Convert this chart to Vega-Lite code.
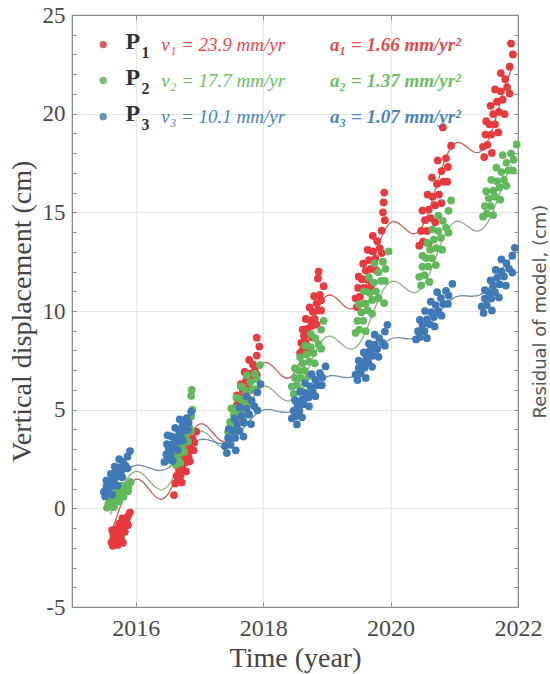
{
  "$schema": "https://vega.github.io/schema/vega-lite/v6.json",
  "width": 446,
  "height": 592,
  "autosize": {"type": "none"},
  "padding": {"left": 72, "top": 15, "right": 32, "bottom": 67},
  "background": "white",
  "config": {
    "view": {"stroke": "#8a8a8a", "strokeWidth": 1.2},
    "font": "Liberation Serif",
    "axis": {
      "labelFont": "Liberation Serif",
      "titleFont": "Liberation Serif",
      "titleFontWeight": "normal",
      "labelColor": "#4a4a4a",
      "titleColor": "#444444",
      "tickColor": "#8a8a8a",
      "domainColor": "#8a8a8a",
      "gridColor": "#e6e6e6",
      "labelOverlap": false,
      "labelFlush": false
    }
  },
  "datasets": {
    "pts": [
      {"s":"P1","t":2015.62,"y":-1.73},{"s":"P1","t":2015.64,"y":-1.9},{"s":"P1","t":2015.65,"y":-1.53},{"s":"P1","t":2015.67,"y":-1.7},{"s":"P1","t":2015.68,"y":-1.36},{"s":"P1","t":2015.7,"y":-1.53},{"s":"P1","t":2015.72,"y":-1.19},{"s":"P1","t":2015.74,"y":-1.36},{"s":"P1","t":2015.76,"y":-0.98},{"s":"P1","t":2015.78,"y":-1.15},{"s":"P1","t":2015.79,"y":-0.81},{"s":"P1","t":2015.82,"y":-0.95},{"s":"P1","t":2015.84,"y":-0.61},{"s":"P1","t":2015.86,"y":-0.74},{"s":"P1","t":2015.88,"y":-0.4},{"s":"P1","t":2015.91,"y":-0.2},{"s":"P1","t":2015.72,"y":-1.85},{"s":"P1","t":2015.8,"y":-1.75},{"s":"P1","t":2015.63,"y":-1.1},
      {"s":"P1","t":2015.65,"y":-1.31},{"s":"P1","t":2015.7,"y":-1.05},{"s":"P1","t":2015.74,"y":-0.78},{"s":"P1","t":2015.79,"y":-0.51},{"s":"P1","t":2015.71,"y":-1.83},{"s":"P1","t":2015.77,"y":-1.49},{"s":"P1","t":2015.83,"y":-1.19},{"s":"P1","t":2015.88,"y":-0.85},
      {"s":"P1","t":2016.6,"y":0.67},{"s":"P1","t":2016.62,"y":1.26},{"s":"P1","t":2016.64,"y":1.65},{"s":"P1","t":2016.66,"y":1.37},{"s":"P1","t":2016.68,"y":1.93},{"s":"P1","t":2016.7,"y":1.65},{"s":"P1","t":2016.72,"y":2.21},{"s":"P1","t":2016.74,"y":1.98},{"s":"P1","t":2016.76,"y":2.54},{"s":"P1","t":2016.78,"y":2.32},{"s":"P1","t":2016.8,"y":2.88},{"s":"P1","t":2016.83,"y":2.6},{"s":"P1","t":2016.85,"y":3.22},{"s":"P1","t":2016.87,"y":2.94},{"s":"P1","t":2016.89,"y":3.55},{"s":"P1","t":2016.92,"y":3.33},{"s":"P1","t":2016.95,"y":3.89},
      {"s":"P1","t":2016.65,"y":2.18},{"s":"P1","t":2016.7,"y":2.6},{"s":"P1","t":2016.75,"y":3.05},{"s":"P1","t":2016.81,"y":3.5},{"s":"P1","t":2016.72,"y":1.31},{"s":"P1","t":2016.79,"y":1.87},{"s":"P1","t":2016.85,"y":2.38},{"s":"P1","t":2016.91,"y":2.94},
      {"s":"P1","t":2017.55,"y":4.78},{"s":"P1","t":2017.57,"y":4.4},{"s":"P1","t":2017.59,"y":5.24},{"s":"P1","t":2017.61,"y":4.86},{"s":"P1","t":2017.63,"y":5.62},{"s":"P1","t":2017.66,"y":5.24},{"s":"P1","t":2017.68,"y":6.0},{"s":"P1","t":2017.71,"y":5.62},{"s":"P1","t":2017.73,"y":6.45},{"s":"P1","t":2017.76,"y":6.07},{"s":"P1","t":2017.78,"y":6.83},{"s":"P1","t":2017.81,"y":6.53},{"s":"P1","t":2017.84,"y":7.29},{"s":"P1","t":2017.87,"y":6.98},{"s":"P1","t":2017.9,"y":7.74},{"s":"P1","t":2017.94,"y":8.2},{"s":"P1","t":2017.9,"y":8.65},
      {"s":"P1","t":2017.59,"y":5.73},{"s":"P1","t":2017.65,"y":6.3},{"s":"P1","t":2017.71,"y":6.91},{"s":"P1","t":2017.78,"y":7.52},{"s":"P1","t":2017.67,"y":4.55},{"s":"P1","t":2017.75,"y":5.31},{"s":"P1","t":2017.83,"y":6.0},{"s":"P1","t":2017.9,"y":6.76},
      {"s":"P1","t":2018.58,"y":7.87},{"s":"P1","t":2018.6,"y":8.38},{"s":"P1","t":2018.62,"y":8.02},{"s":"P1","t":2018.64,"y":8.74},{"s":"P1","t":2018.67,"y":8.38},{"s":"P1","t":2018.69,"y":9.1},{"s":"P1","t":2018.71,"y":8.81},{"s":"P1","t":2018.74,"y":9.53},{"s":"P1","t":2018.76,"y":9.24},{"s":"P1","t":2018.78,"y":9.96},{"s":"P1","t":2018.81,"y":9.6},{"s":"P1","t":2018.84,"y":10.39},{"s":"P1","t":2018.86,"y":10.03},{"s":"P1","t":2018.89,"y":10.82},{"s":"P1","t":2018.91,"y":10.54},{"s":"P1","t":2018.95,"y":11.26},{"s":"P1","t":2018.86,"y":11.65},{"s":"P1","t":2018.87,"y":12.0},
      {"s":"P1","t":2018.62,"y":9.06},{"s":"P1","t":2018.67,"y":9.6},{"s":"P1","t":2018.73,"y":10.18},{"s":"P1","t":2018.8,"y":10.75},{"s":"P1","t":2018.69,"y":7.94},{"s":"P1","t":2018.77,"y":8.66},{"s":"P1","t":2018.84,"y":9.31},{"s":"P1","t":2018.91,"y":10.03},
      {"s":"P1","t":2019.45,"y":10.64},{"s":"P1","t":2019.47,"y":10.2},{"s":"P1","t":2019.49,"y":11.17},{"s":"P1","t":2019.52,"y":10.73},{"s":"P1","t":2019.55,"y":11.61},{"s":"P1","t":2019.58,"y":11.17},{"s":"P1","t":2019.61,"y":12.05},{"s":"P1","t":2019.63,"y":11.61},{"s":"P1","t":2019.66,"y":12.58},{"s":"P1","t":2019.69,"y":12.14},{"s":"P1","t":2019.72,"y":13.02},{"s":"P1","t":2019.76,"y":12.66},{"s":"P1","t":2019.79,"y":13.54},{"s":"P1","t":2019.83,"y":13.19},{"s":"P1","t":2019.86,"y":14.07},{"s":"P1","t":2019.91,"y":14.6},{"s":"P1","t":2019.88,"y":15.0},{"s":"P1","t":2019.89,"y":15.5},{"s":"P1","t":2019.9,"y":16.0},
      {"s":"P1","t":2019.5,"y":11.74},{"s":"P1","t":2019.57,"y":12.4},{"s":"P1","t":2019.64,"y":13.1},{"s":"P1","t":2019.72,"y":13.81},{"s":"P1","t":2019.59,"y":10.38},{"s":"P1","t":2019.69,"y":11.26},{"s":"P1","t":2019.78,"y":12.05},{"s":"P1","t":2019.86,"y":12.93},
      {"s":"P1","t":2020.45,"y":13.31},{"s":"P1","t":2020.48,"y":14.06},{"s":"P1","t":2020.51,"y":13.52},{"s":"P1","t":2020.54,"y":14.6},{"s":"P1","t":2020.57,"y":14.06},{"s":"P1","t":2020.6,"y":15.14},{"s":"P1","t":2020.63,"y":14.71},{"s":"P1","t":2020.66,"y":15.79},{"s":"P1","t":2020.7,"y":15.36},{"s":"P1","t":2020.73,"y":16.44},{"s":"P1","t":2020.76,"y":15.9},{"s":"P1","t":2020.8,"y":17.09},{"s":"P1","t":2020.83,"y":16.55},{"s":"P1","t":2020.87,"y":17.74},{"s":"P1","t":2020.9,"y":17.3},{"s":"P1","t":2020.95,"y":18.38},{"s":"P1","t":2020.82,"y":19.3},
      {"s":"P1","t":2020.5,"y":15.09},{"s":"P1","t":2020.58,"y":15.9},{"s":"P1","t":2020.65,"y":16.76},{"s":"P1","t":2020.74,"y":17.63},{"s":"P1","t":2020.6,"y":13.42},{"s":"P1","t":2020.7,"y":14.5},{"s":"P1","t":2020.8,"y":15.47},{"s":"P1","t":2020.89,"y":16.55},
      {"s":"P1","t":2021.45,"y":18.32},{"s":"P1","t":2021.47,"y":17.8},{"s":"P1","t":2021.49,"y":18.94},{"s":"P1","t":2021.52,"y":18.42},{"s":"P1","t":2021.55,"y":19.46},{"s":"P1","t":2021.58,"y":18.94},{"s":"P1","t":2021.61,"y":19.98},{"s":"P1","t":2021.64,"y":19.46},{"s":"P1","t":2021.67,"y":20.61},{"s":"P1","t":2021.7,"y":20.09},{"s":"P1","t":2021.73,"y":21.13},{"s":"P1","t":2021.76,"y":20.71},{"s":"P1","t":2021.8,"y":21.75},{"s":"P1","t":2021.83,"y":21.34},{"s":"P1","t":2021.87,"y":22.38},{"s":"P1","t":2021.92,"y":23.0},{"s":"P1","t":2021.89,"y":23.55},
      {"s":"P1","t":2021.5,"y":19.62},{"s":"P1","t":2021.57,"y":20.4},{"s":"P1","t":2021.64,"y":21.23},{"s":"P1","t":2021.73,"y":22.06},{"s":"P1","t":2021.59,"y":18.01},{"s":"P1","t":2021.69,"y":19.05},{"s":"P1","t":2021.79,"y":19.98},{"s":"P1","t":2021.87,"y":21.02},

      {"s":"P2","t":2015.55,"y":0.03},{"s":"P2","t":2015.57,"y":0.22},{"s":"P2","t":2015.59,"y":0.08},{"s":"P2","t":2015.61,"y":0.36},{"s":"P2","t":2015.64,"y":0.22},{"s":"P2","t":2015.66,"y":0.5},{"s":"P2","t":2015.68,"y":0.39},{"s":"P2","t":2015.71,"y":0.67},{"s":"P2","t":2015.73,"y":0.56},{"s":"P2","t":2015.75,"y":0.84},{"s":"P2","t":2015.78,"y":0.7},{"s":"P2","t":2015.81,"y":1.01},{"s":"P2","t":2015.83,"y":0.87},{"s":"P2","t":2015.86,"y":1.18},{"s":"P2","t":2015.88,"y":1.06},{"s":"P2","t":2015.92,"y":1.34},
      {"s":"P2","t":2015.59,"y":0.49},{"s":"P2","t":2015.64,"y":0.7},{"s":"P2","t":2015.7,"y":0.92},{"s":"P2","t":2015.77,"y":1.15},{"s":"P2","t":2015.66,"y":0.06},{"s":"P2","t":2015.74,"y":0.34},{"s":"P2","t":2015.81,"y":0.59},{"s":"P2","t":2015.88,"y":0.87},
      {"s":"P2","t":2016.62,"y":2.48},{"s":"P2","t":2016.63,"y":2.2},{"s":"P2","t":2016.65,"y":2.82},{"s":"P2","t":2016.66,"y":2.54},{"s":"P2","t":2016.68,"y":3.1},{"s":"P2","t":2016.7,"y":2.82},{"s":"P2","t":2016.71,"y":3.38},{"s":"P2","t":2016.73,"y":3.1},{"s":"P2","t":2016.75,"y":3.71},{"s":"P2","t":2016.77,"y":3.43},{"s":"P2","t":2016.78,"y":3.99},{"s":"P2","t":2016.8,"y":3.77},{"s":"P2","t":2016.82,"y":4.33},{"s":"P2","t":2016.84,"y":4.1},{"s":"P2","t":2016.87,"y":4.66},{"s":"P2","t":2016.89,"y":5.0},{"s":"P2","t":2016.87,"y":5.7},{"s":"P2","t":2016.88,"y":6.0},
      {"s":"P2","t":2016.65,"y":3.18},{"s":"P2","t":2016.69,"y":3.6},{"s":"P2","t":2016.73,"y":4.05},{"s":"P2","t":2016.78,"y":4.5},{"s":"P2","t":2016.7,"y":2.31},{"s":"P2","t":2016.76,"y":2.87},{"s":"P2","t":2016.82,"y":3.38},{"s":"P2","t":2016.87,"y":3.94},
      {"s":"P2","t":2017.45,"y":3.87},{"s":"P2","t":2017.48,"y":4.38},{"s":"P2","t":2017.51,"y":4.02},{"s":"P2","t":2017.54,"y":4.74},{"s":"P2","t":2017.57,"y":4.38},{"s":"P2","t":2017.6,"y":5.1},{"s":"P2","t":2017.63,"y":4.81},{"s":"P2","t":2017.66,"y":5.53},{"s":"P2","t":2017.7,"y":5.24},{"s":"P2","t":2017.73,"y":5.96},{"s":"P2","t":2017.76,"y":5.6},{"s":"P2","t":2017.8,"y":6.39},{"s":"P2","t":2017.83,"y":6.03},{"s":"P2","t":2017.87,"y":6.82},{"s":"P2","t":2017.9,"y":6.54},{"s":"P2","t":2017.95,"y":7.26},
      {"s":"P2","t":2017.5,"y":5.06},{"s":"P2","t":2017.58,"y":5.6},{"s":"P2","t":2017.65,"y":6.18},{"s":"P2","t":2017.74,"y":6.75},{"s":"P2","t":2017.6,"y":3.94},{"s":"P2","t":2017.7,"y":4.66},{"s":"P2","t":2017.8,"y":5.31},{"s":"P2","t":2017.89,"y":6.03},
      {"s":"P2","t":2018.45,"y":6.17},{"s":"P2","t":2018.48,"y":5.8},{"s":"P2","t":2018.5,"y":6.61},{"s":"P2","t":2018.53,"y":6.24},{"s":"P2","t":2018.56,"y":6.98},{"s":"P2","t":2018.59,"y":6.61},{"s":"P2","t":2018.62,"y":7.35},{"s":"P2","t":2018.65,"y":6.98},{"s":"P2","t":2018.68,"y":7.8},{"s":"P2","t":2018.72,"y":7.43},{"s":"P2","t":2018.75,"y":8.17},{"s":"P2","t":2018.79,"y":7.87},{"s":"P2","t":2018.82,"y":8.61},{"s":"P2","t":2018.87,"y":8.32},{"s":"P2","t":2018.91,"y":9.06},{"s":"P2","t":2018.95,"y":9.5},
      {"s":"P2","t":2018.5,"y":7.1},{"s":"P2","t":2018.58,"y":7.65},{"s":"P2","t":2018.66,"y":8.24},{"s":"P2","t":2018.75,"y":8.83},{"s":"P2","t":2018.61,"y":5.95},{"s":"P2","t":2018.71,"y":6.69},{"s":"P2","t":2018.81,"y":7.35},{"s":"P2","t":2018.91,"y":8.09},
      {"s":"P2","t":2019.45,"y":8.89},{"s":"P2","t":2019.48,"y":9.5},{"s":"P2","t":2019.51,"y":9.06},{"s":"P2","t":2019.54,"y":9.94},{"s":"P2","t":2019.57,"y":9.5},{"s":"P2","t":2019.61,"y":10.38},{"s":"P2","t":2019.64,"y":10.03},{"s":"P2","t":2019.67,"y":10.91},{"s":"P2","t":2019.71,"y":10.56},{"s":"P2","t":2019.74,"y":11.44},{"s":"P2","t":2019.77,"y":11.0},{"s":"P2","t":2019.81,"y":11.97},{"s":"P2","t":2019.85,"y":11.53},{"s":"P2","t":2019.88,"y":12.5},{"s":"P2","t":2019.92,"y":12.14},{"s":"P2","t":2019.97,"y":13.02},{"s":"P2","t":2019.9,"y":10.4},
      {"s":"P2","t":2019.5,"y":10.34},{"s":"P2","t":2019.58,"y":11.0},{"s":"P2","t":2019.66,"y":11.7},{"s":"P2","t":2019.75,"y":12.41},{"s":"P2","t":2019.61,"y":8.98},{"s":"P2","t":2019.71,"y":9.86},{"s":"P2","t":2019.81,"y":10.65},{"s":"P2","t":2019.91,"y":11.53},
      {"s":"P2","t":2020.45,"y":11.73},{"s":"P2","t":2020.48,"y":11.3},{"s":"P2","t":2020.5,"y":12.25},{"s":"P2","t":2020.53,"y":11.82},{"s":"P2","t":2020.56,"y":12.68},{"s":"P2","t":2020.59,"y":12.25},{"s":"P2","t":2020.62,"y":13.11},{"s":"P2","t":2020.65,"y":12.68},{"s":"P2","t":2020.68,"y":13.62},{"s":"P2","t":2020.72,"y":13.19},{"s":"P2","t":2020.75,"y":14.05},{"s":"P2","t":2020.79,"y":13.71},{"s":"P2","t":2020.82,"y":14.57},{"s":"P2","t":2020.87,"y":14.22},{"s":"P2","t":2020.91,"y":15.08},{"s":"P2","t":2020.95,"y":15.6},
      {"s":"P2","t":2020.5,"y":12.81},{"s":"P2","t":2020.58,"y":13.45},{"s":"P2","t":2020.66,"y":14.14},{"s":"P2","t":2020.75,"y":14.83},{"s":"P2","t":2020.61,"y":11.47},{"s":"P2","t":2020.71,"y":12.33},{"s":"P2","t":2020.81,"y":13.11},{"s":"P2","t":2020.91,"y":13.97},
      {"s":"P2","t":2021.45,"y":14.78},{"s":"P2","t":2021.48,"y":15.32},{"s":"P2","t":2021.51,"y":14.93},{"s":"P2","t":2021.54,"y":15.71},{"s":"P2","t":2021.57,"y":15.32},{"s":"P2","t":2021.61,"y":16.1},{"s":"P2","t":2021.64,"y":15.79},{"s":"P2","t":2021.67,"y":16.57},{"s":"P2","t":2021.71,"y":16.26},{"s":"P2","t":2021.74,"y":17.04},{"s":"P2","t":2021.78,"y":16.65},{"s":"P2","t":2021.82,"y":17.51},{"s":"P2","t":2021.85,"y":17.12},{"s":"P2","t":2021.89,"y":17.98},{"s":"P2","t":2021.93,"y":17.66},{"s":"P2","t":2021.98,"y":18.44},
      {"s":"P2","t":2021.5,"y":16.07},{"s":"P2","t":2021.58,"y":16.65},{"s":"P2","t":2021.66,"y":17.27},{"s":"P2","t":2021.76,"y":17.9},{"s":"P2","t":2021.61,"y":14.86},{"s":"P2","t":2021.72,"y":15.64},{"s":"P2","t":2021.82,"y":16.34},{"s":"P2","t":2021.92,"y":17.12},

      {"s":"P3","t":2015.5,"y":0.83},{"s":"P3","t":2015.52,"y":0.6},{"s":"P3","t":2015.54,"y":1.11},{"s":"P3","t":2015.56,"y":0.88},{"s":"P3","t":2015.59,"y":1.34},{"s":"P3","t":2015.61,"y":1.11},{"s":"P3","t":2015.64,"y":1.57},{"s":"P3","t":2015.66,"y":1.34},{"s":"P3","t":2015.69,"y":1.84},{"s":"P3","t":2015.72,"y":1.61},{"s":"P3","t":2015.74,"y":2.07},{"s":"P3","t":2015.77,"y":1.89},{"s":"P3","t":2015.8,"y":2.35},{"s":"P3","t":2015.84,"y":2.16},{"s":"P3","t":2015.87,"y":2.62},{"s":"P3","t":2015.91,"y":2.9},
      {"s":"P3","t":2015.54,"y":1.41},{"s":"P3","t":2015.61,"y":1.75},{"s":"P3","t":2015.67,"y":2.12},{"s":"P3","t":2015.74,"y":2.49},{"s":"P3","t":2015.63,"y":0.69},{"s":"P3","t":2015.71,"y":1.15},{"s":"P3","t":2015.79,"y":1.57},{"s":"P3","t":2015.87,"y":2.03},
      {"s":"P3","t":2016.45,"y":2.35},{"s":"P3","t":2016.48,"y":2.73},{"s":"P3","t":2016.5,"y":2.46},{"s":"P3","t":2016.52,"y":3.0},{"s":"P3","t":2016.55,"y":2.73},{"s":"P3","t":2016.58,"y":3.27},{"s":"P3","t":2016.6,"y":3.06},{"s":"P3","t":2016.63,"y":3.6},{"s":"P3","t":2016.66,"y":3.38},{"s":"P3","t":2016.68,"y":3.92},{"s":"P3","t":2016.71,"y":3.65},{"s":"P3","t":2016.74,"y":4.24},{"s":"P3","t":2016.77,"y":3.97},{"s":"P3","t":2016.8,"y":4.57},{"s":"P3","t":2016.83,"y":4.35},{"s":"P3","t":2016.87,"y":4.89},{"s":"P3","t":2016.5,"y":3.7},
      {"s":"P3","t":2016.49,"y":3.25},{"s":"P3","t":2016.56,"y":3.65},{"s":"P3","t":2016.62,"y":4.08},{"s":"P3","t":2016.69,"y":4.51},{"s":"P3","t":2016.58,"y":2.41},{"s":"P3","t":2016.66,"y":2.95},{"s":"P3","t":2016.74,"y":3.43},{"s":"P3","t":2016.82,"y":3.97},
      {"s":"P3","t":2017.4,"y":3.15},{"s":"P3","t":2017.43,"y":2.8},{"s":"P3","t":2017.45,"y":3.57},{"s":"P3","t":2017.49,"y":3.22},{"s":"P3","t":2017.52,"y":3.92},{"s":"P3","t":2017.56,"y":3.57},{"s":"P3","t":2017.59,"y":4.27},{"s":"P3","t":2017.63,"y":3.92},{"s":"P3","t":2017.66,"y":4.69},{"s":"P3","t":2017.7,"y":4.34},{"s":"P3","t":2017.74,"y":5.04},{"s":"P3","t":2017.78,"y":4.76},{"s":"P3","t":2017.82,"y":5.46},{"s":"P3","t":2017.86,"y":5.18},{"s":"P3","t":2017.91,"y":5.88},{"s":"P3","t":2017.96,"y":6.3},
      {"s":"P3","t":2017.46,"y":4.03},{"s":"P3","t":2017.55,"y":4.55},{"s":"P3","t":2017.63,"y":5.11},{"s":"P3","t":2017.74,"y":5.67},{"s":"P3","t":2017.57,"y":2.94},{"s":"P3","t":2017.69,"y":3.64},{"s":"P3","t":2017.81,"y":4.27},{"s":"P3","t":2017.91,"y":4.97},
      {"s":"P3","t":2018.45,"y":4.56},{"s":"P3","t":2018.48,"y":4.95},{"s":"P3","t":2018.51,"y":4.67},{"s":"P3","t":2018.54,"y":5.23},{"s":"P3","t":2018.57,"y":4.95},{"s":"P3","t":2018.61,"y":5.51},{"s":"P3","t":2018.64,"y":5.28},{"s":"P3","t":2018.67,"y":5.84},{"s":"P3","t":2018.71,"y":5.62},{"s":"P3","t":2018.74,"y":6.18},{"s":"P3","t":2018.78,"y":5.9},{"s":"P3","t":2018.82,"y":6.52},{"s":"P3","t":2018.85,"y":6.24},{"s":"P3","t":2018.89,"y":6.85},{"s":"P3","t":2018.93,"y":6.63},{"s":"P3","t":2018.98,"y":7.19},{"s":"P3","t":2018.53,"y":4.25},
      {"s":"P3","t":2018.5,"y":5.48},{"s":"P3","t":2018.58,"y":5.9},{"s":"P3","t":2018.66,"y":6.35},{"s":"P3","t":2018.76,"y":6.8},{"s":"P3","t":2018.61,"y":4.61},{"s":"P3","t":2018.72,"y":5.17},{"s":"P3","t":2018.82,"y":5.68},{"s":"P3","t":2018.92,"y":6.24},
      {"s":"P3","t":2019.45,"y":6.78},{"s":"P3","t":2019.48,"y":6.5},{"s":"P3","t":2019.5,"y":7.12},{"s":"P3","t":2019.53,"y":6.84},{"s":"P3","t":2019.56,"y":7.4},{"s":"P3","t":2019.59,"y":7.12},{"s":"P3","t":2019.62,"y":7.68},{"s":"P3","t":2019.65,"y":7.4},{"s":"P3","t":2019.68,"y":8.01},{"s":"P3","t":2019.72,"y":7.73},{"s":"P3","t":2019.75,"y":8.29},{"s":"P3","t":2019.79,"y":8.07},{"s":"P3","t":2019.82,"y":8.63},{"s":"P3","t":2019.87,"y":8.4},{"s":"P3","t":2019.91,"y":8.96},{"s":"P3","t":2019.95,"y":9.3},
      {"s":"P3","t":2019.5,"y":7.48},{"s":"P3","t":2019.58,"y":7.9},{"s":"P3","t":2019.66,"y":8.35},{"s":"P3","t":2019.75,"y":8.8},{"s":"P3","t":2019.61,"y":6.61},{"s":"P3","t":2019.71,"y":7.17},{"s":"P3","t":2019.81,"y":7.68},{"s":"P3","t":2019.91,"y":8.24},
      {"s":"P3","t":2020.4,"y":8.56},{"s":"P3","t":2020.43,"y":8.98},{"s":"P3","t":2020.46,"y":8.68},{"s":"P3","t":2020.5,"y":9.28},{"s":"P3","t":2020.53,"y":8.98},{"s":"P3","t":2020.57,"y":9.58},{"s":"P3","t":2020.61,"y":9.34},{"s":"P3","t":2020.64,"y":9.94},{"s":"P3","t":2020.68,"y":9.7},{"s":"P3","t":2020.71,"y":10.3},{"s":"P3","t":2020.75,"y":10.0},{"s":"P3","t":2020.79,"y":10.66},{"s":"P3","t":2020.83,"y":10.36},{"s":"P3","t":2020.87,"y":11.02},{"s":"P3","t":2020.91,"y":10.78},{"s":"P3","t":2020.97,"y":11.38},
      {"s":"P3","t":2020.46,"y":9.55},{"s":"P3","t":2020.54,"y":10.0},{"s":"P3","t":2020.63,"y":10.48},{"s":"P3","t":2020.73,"y":10.96},{"s":"P3","t":2020.57,"y":8.62},{"s":"P3","t":2020.69,"y":9.22},{"s":"P3","t":2020.8,"y":9.76},{"s":"P3","t":2020.9,"y":10.36},
      {"s":"P3","t":2021.43,"y":10.23},{"s":"P3","t":2021.46,"y":9.9},{"s":"P3","t":2021.48,"y":10.63},{"s":"P3","t":2021.51,"y":10.3},{"s":"P3","t":2021.54,"y":10.96},{"s":"P3","t":2021.58,"y":10.63},{"s":"P3","t":2021.61,"y":11.29},{"s":"P3","t":2021.64,"y":10.96},{"s":"P3","t":2021.67,"y":11.68},{"s":"P3","t":2021.71,"y":11.35},{"s":"P3","t":2021.74,"y":12.01},{"s":"P3","t":2021.78,"y":11.75},{"s":"P3","t":2021.82,"y":12.41},{"s":"P3","t":2021.86,"y":12.14},{"s":"P3","t":2021.91,"y":12.8},{"s":"P3","t":2021.95,"y":13.2},
      {"s":"P3","t":2021.48,"y":11.06},{"s":"P3","t":2021.57,"y":11.55},{"s":"P3","t":2021.65,"y":12.08},{"s":"P3","t":2021.74,"y":12.61},{"s":"P3","t":2021.59,"y":10.03},{"s":"P3","t":2021.7,"y":10.69},{"s":"P3","t":2021.81,"y":11.29},{"s":"P3","t":2021.91,"y":11.95}
    ],
    "fit": [
      {"s":"P1","t":2015.6,"y":-1.34},{"s":"P1","t":2015.7,"y":-0.45},{"s":"P1","t":2015.8,"y":0.47},{"s":"P1","t":2015.9,"y":1.16},{"s":"P1","t":2016.0,"y":1.47},{"s":"P1","t":2016.1,"y":1.37},{"s":"P1","t":2016.2,"y":1.01},{"s":"P1","t":2016.3,"y":0.62},{"s":"P1","t":2016.4,"y":0.46},{"s":"P1","t":2016.5,"y":0.7},{"s":"P1","t":2016.6,"y":1.34},{"s":"P1","t":2016.7,"y":2.26},{"s":"P1","t":2016.8,"y":3.21},{"s":"P1","t":2016.9,"y":3.93},{"s":"P1","t":2017.0,"y":4.27},{"s":"P1","t":2017.1,"y":4.2},{"s":"P1","t":2017.2,"y":3.87},{"s":"P1","t":2017.3,"y":3.51},{"s":"P1","t":2017.4,"y":3.38},{"s":"P1","t":2017.5,"y":3.65},{"s":"P1","t":2017.6,"y":4.32},{"s":"P1","t":2017.7,"y":5.27},{"s":"P1","t":2017.8,"y":6.25},{"s":"P1","t":2017.9,"y":7.0},{"s":"P1","t":2018.0,"y":7.37},{"s":"P1","t":2018.1,"y":7.33},{"s":"P1","t":2018.2,"y":7.03},{"s":"P1","t":2018.3,"y":6.7},{"s":"P1","t":2018.4,"y":6.6},{"s":"P1","t":2018.5,"y":6.9},{"s":"P1","t":2018.6,"y":7.6},{"s":"P1","t":2018.7,"y":8.58},{"s":"P1","t":2018.8,"y":9.59},{"s":"P1","t":2018.9,"y":10.37},{"s":"P1","t":2019.0,"y":10.77},{"s":"P1","t":2019.1,"y":10.76},{"s":"P1","t":2019.2,"y":10.49},{"s":"P1","t":2019.3,"y":10.19},{"s":"P1","t":2019.4,"y":10.12},{"s":"P1","t":2019.5,"y":10.45},{"s":"P1","t":2019.6,"y":11.18},{"s":"P1","t":2019.7,"y":12.19},{"s":"P1","t":2019.8,"y":13.23},{"s":"P1","t":2019.9,"y":14.04},{"s":"P1","t":2020.0,"y":14.47},{"s":"P1","t":2020.1,"y":14.49},{"s":"P1","t":2020.2,"y":14.25},{"s":"P1","t":2020.3,"y":13.98},{"s":"P1","t":2020.4,"y":13.94},{"s":"P1","t":2020.5,"y":14.3},{"s":"P1","t":2020.6,"y":15.06},{"s":"P1","t":2020.7,"y":16.1},{"s":"P1","t":2020.8,"y":17.17},{"s":"P1","t":2020.9,"y":18.01},{"s":"P1","t":2021.0,"y":18.47},{"s":"P1","t":2021.1,"y":18.52},{"s":"P1","t":2021.2,"y":18.31},{"s":"P1","t":2021.3,"y":18.07},{"s":"P1","t":2021.4,"y":18.06},{"s":"P1","t":2021.5,"y":18.45},{"s":"P1","t":2021.6,"y":19.24},{"s":"P1","t":2021.7,"y":20.31},{"s":"P1","t":2021.8,"y":21.41},{"s":"P1","t":2021.9,"y":22.28},
      {"s":"P2","t":2015.6,"y":-0.31},{"s":"P2","t":2015.7,"y":0.38},{"s":"P2","t":2015.8,"y":1.11},{"s":"P2","t":2015.9,"y":1.65},{"s":"P2","t":2016.0,"y":1.87},{"s":"P2","t":2016.1,"y":1.77},{"s":"P2","t":2016.2,"y":1.44},{"s":"P2","t":2016.3,"y":1.1},{"s":"P2","t":2016.4,"y":0.94},{"s":"P2","t":2016.5,"y":1.11},{"s":"P2","t":2016.6,"y":1.61},{"s":"P2","t":2016.7,"y":2.33},{"s":"P2","t":2016.8,"y":3.08},{"s":"P2","t":2016.9,"y":3.65},{"s":"P2","t":2017.0,"y":3.9},{"s":"P2","t":2017.1,"y":3.82},{"s":"P2","t":2017.2,"y":3.52},{"s":"P2","t":2017.3,"y":3.2},{"s":"P2","t":2017.4,"y":3.07},{"s":"P2","t":2017.5,"y":3.26},{"s":"P2","t":2017.6,"y":3.79},{"s":"P2","t":2017.7,"y":4.53},{"s":"P2","t":2017.8,"y":5.31},{"s":"P2","t":2017.9,"y":5.9},{"s":"P2","t":2018.0,"y":6.17},{"s":"P2","t":2018.1,"y":6.12},{"s":"P2","t":2018.2,"y":5.84},{"s":"P2","t":2018.3,"y":5.55},{"s":"P2","t":2018.4,"y":5.44},{"s":"P2","t":2018.5,"y":5.66},{"s":"P2","t":2018.6,"y":6.21},{"s":"P2","t":2018.7,"y":6.98},{"s":"P2","t":2018.8,"y":7.78},{"s":"P2","t":2018.9,"y":8.4},{"s":"P2","t":2019.0,"y":8.7},{"s":"P2","t":2019.1,"y":8.67},{"s":"P2","t":2019.2,"y":8.42},{"s":"P2","t":2019.3,"y":8.15},{"s":"P2","t":2019.4,"y":8.07},{"s":"P2","t":2019.5,"y":8.31},{"s":"P2","t":2019.6,"y":8.89},{"s":"P2","t":2019.7,"y":9.68},{"s":"P2","t":2019.8,"y":10.51},{"s":"P2","t":2019.9,"y":11.15},{"s":"P2","t":2020.0,"y":11.47},{"s":"P2","t":2020.1,"y":11.47},{"s":"P2","t":2020.2,"y":11.24},{"s":"P2","t":2020.3,"y":11.0},{"s":"P2","t":2020.4,"y":10.94},{"s":"P2","t":2020.5,"y":11.21},{"s":"P2","t":2020.6,"y":11.81},{"s":"P2","t":2020.7,"y":12.63},{"s":"P2","t":2020.8,"y":13.48},{"s":"P2","t":2020.9,"y":14.15},{"s":"P2","t":2021.0,"y":14.5},{"s":"P2","t":2021.1,"y":14.52},{"s":"P2","t":2021.2,"y":14.32},{"s":"P2","t":2021.3,"y":14.1},{"s":"P2","t":2021.4,"y":14.07},{"s":"P2","t":2021.5,"y":14.36},{"s":"P2","t":2021.6,"y":14.99},{"s":"P2","t":2021.7,"y":15.83},{"s":"P2","t":2021.8,"y":16.71},{"s":"P2","t":2021.9,"y":17.4},
      {"s":"P3","t":2015.6,"y":1.08},{"s":"P3","t":2015.7,"y":1.42},{"s":"P3","t":2015.8,"y":1.77},{"s":"P3","t":2015.9,"y":2.05},{"s":"P3","t":2016.0,"y":2.18},{"s":"P3","t":2016.1,"y":2.17},{"s":"P3","t":2016.2,"y":2.06},{"s":"P3","t":2016.3,"y":1.95},{"s":"P3","t":2016.4,"y":1.92},{"s":"P3","t":2016.5,"y":2.03},{"s":"P3","t":2016.6,"y":2.3},{"s":"P3","t":2016.7,"y":2.66},{"s":"P3","t":2016.8,"y":3.03},{"s":"P3","t":2016.9,"y":3.33},{"s":"P3","t":2017.0,"y":3.48},{"s":"P3","t":2017.1,"y":3.49},{"s":"P3","t":2017.2,"y":3.4},{"s":"P3","t":2017.3,"y":3.31},{"s":"P3","t":2017.4,"y":3.3},{"s":"P3","t":2017.5,"y":3.43},{"s":"P3","t":2017.6,"y":3.72},{"s":"P3","t":2017.7,"y":4.1},{"s":"P3","t":2017.8,"y":4.49},{"s":"P3","t":2017.9,"y":4.81},{"s":"P3","t":2018.0,"y":4.98},{"s":"P3","t":2018.1,"y":5.01},{"s":"P3","t":2018.2,"y":4.94},{"s":"P3","t":2018.3,"y":4.87},{"s":"P3","t":2018.4,"y":4.88},{"s":"P3","t":2018.5,"y":5.03},{"s":"P3","t":2018.6,"y":5.34},{"s":"P3","t":2018.7,"y":5.74},{"s":"P3","t":2018.8,"y":6.15},{"s":"P3","t":2018.9,"y":6.49},{"s":"P3","t":2019.0,"y":6.68},{"s":"P3","t":2019.1,"y":6.73},{"s":"P3","t":2019.2,"y":6.68},{"s":"P3","t":2019.3,"y":6.63},{"s":"P3","t":2019.4,"y":6.66},{"s":"P3","t":2019.5,"y":6.83},{"s":"P3","t":2019.6,"y":7.16},{"s":"P3","t":2019.7,"y":7.58},{"s":"P3","t":2019.8,"y":8.01},{"s":"P3","t":2019.9,"y":8.37},{"s":"P3","t":2020.0,"y":8.58},{"s":"P3","t":2020.1,"y":8.65},{"s":"P3","t":2020.2,"y":8.62},{"s":"P3","t":2020.3,"y":8.59},{"s":"P3","t":2020.4,"y":8.64},{"s":"P3","t":2020.5,"y":8.83},{"s":"P3","t":2020.6,"y":9.18},{"s":"P3","t":2020.7,"y":9.62},{"s":"P3","t":2020.8,"y":10.07},{"s":"P3","t":2020.9,"y":10.45},{"s":"P3","t":2021.0,"y":10.68},{"s":"P3","t":2021.1,"y":10.77},{"s":"P3","t":2021.2,"y":10.76},{"s":"P3","t":2021.3,"y":10.75},{"s":"P3","t":2021.4,"y":10.82},{"s":"P3","t":2021.5,"y":11.03},{"s":"P3","t":2021.6,"y":11.4},{"s":"P3","t":2021.7,"y":11.86},{"s":"P3","t":2021.8,"y":12.33},{"s":"P3","t":2021.9,"y":12.73}
    ],
    "key": [
      {"s":"P1","n":"1","v":"v₁ = 23.9 mm/yr","a":"a₁ = 1.66 mm/yr²","y":23.5},
      {"s":"P2","n":"2","v":"v₂ = 17.7 mm/yr","a":"a₂ = 1.37 mm/yr²","y":21.68},
      {"s":"P3","n":"3","v":"v₃ = 10.1 mm/yr","a":"a₃ = 1.07 mm/yr²","y":19.85}
    ]
  },
  "layer": [
    {
      "data": {"name": "fit"},
      "mark": {"type": "line", "strokeWidth": 1.3, "opacity": 0.85, "interpolate": "natural"},
      "encoding": {
        "x": {
          "field": "t", "type": "quantitative",
          "scale": {"domain": [2015, 2022], "nice": false, "zero": false},
          "axis": {
            "orient": "bottom", "values": [2016, 2018, 2020, 2022], "format": "d",
            "labelFontSize": 24, "labelPadding": 14, "tickSize": -5,
            "grid": true, "title": "Time (year)", "titleFontSize": 28, "titlePadding": 4
          }
        },
        "y": {
          "field": "y", "type": "quantitative",
          "scale": {"domain": [-5, 25], "nice": false, "zero": false},
          "axis": {
            "orient": "left",
            "values": [-5,-4,-3,-2,-1,0,1,2,3,4,5,6,7,8,9,10,11,12,13,14,15,16,17,18,19,20,21,22,23,24,25],
            "labelExpr": "datum.value % 5 === 0 ? '' + datum.value : ''",
            "labelFontSize": 23, "labelPadding": 11, "tickSize": -4,
            "grid": true,
            "gridOpacity": {"condition": {"test": "datum.value % 5 === 0", "value": 1}, "value": 0},
            "title": "Vertical displacement (cm)", "titleFontSize": 28, "titlePadding": 6
          }
        },
        "color": {
          "field": "s", "type": "nominal",
          "scale": {"domain": ["P1", "P2", "P3"], "range": ["#b5463f", "#7c9e78", "#5b7895"]},
          "legend": null
        }
      }
    },
    {
      "data": {"name": "pts"},
      "mark": {"type": "circle", "size": 60, "opacity": 1},
      "encoding": {
        "x": {
          "field": "t", "type": "quantitative",
          "axis": {"orient": "top", "values": [2016, 2018, 2020], "labels": false, "tickSize": -5, "grid": false, "title": null}
        },
        "y": {
          "field": "y", "type": "quantitative",
          "axis": {
            "orient": "right",
            "values": [-5,-4,-3,-2,-1,0,1,2,3,4,5,6,7,8,9,10,11,12,13,14,15,16,17,18,19,20,21,22,23,24,25],
            "labels": false, "tickSize": -4, "grid": false,
            "title": "Residual of model, (cm)", "titleFont": "DejaVu Sans", "titleFontSize": 18,
            "titleColor": "#555555", "titleAngle": 270, "titleX": 22, "titleY": 296,
            "titleAlign": "center", "titleBaseline": "middle"
          }
        },
        "color": {
          "field": "s", "type": "nominal",
          "scale": {"domain": ["P1", "P2", "P3"], "range": ["#e63a3f", "#62b95b", "#3f7ab6"]},
          "legend": null
        }
      }
    },
    {
      "data": {"name": "key"},
      "mark": {"type": "circle", "size": 55, "opacity": 0.85},
      "encoding": {
        "x": {"datum": 2015.49, "type": "quantitative", "axis": null},
        "y": {"field": "y", "type": "quantitative", "axis": null},
        "color": {
          "field": "s", "type": "nominal",
          "scale": {"domain": ["P1", "P2", "P3"], "range": ["#c9484e", "#6fae69", "#4f7ba4"]},
          "legend": null
        }
      }
    },
    {
      "data": {"name": "key"},
      "mark": {"type": "text", "font": "Liberation Serif", "fontWeight": "bold", "fontSize": 24, "align": "left", "baseline": "middle", "dy": -3, "color": "#333333"},
      "encoding": {
        "x": {"datum": 2015.84, "type": "quantitative", "axis": null},
        "y": {"field": "y", "type": "quantitative", "axis": null},
        "text": {"value": "P"}
      }
    },
    {
      "data": {"name": "key"},
      "mark": {"type": "text", "font": "Liberation Serif", "fontWeight": "bold", "fontSize": 16, "align": "left", "baseline": "middle", "dy": 8, "color": "#333333"},
      "encoding": {
        "x": {"datum": 2016.09, "type": "quantitative", "axis": null},
        "y": {"field": "y", "type": "quantitative", "axis": null},
        "text": {"field": "n"}
      }
    },
    {
      "data": {"name": "key"},
      "mark": {"type": "text", "font": "Liberation Serif", "fontStyle": "italic", "fontSize": 19, "align": "left", "baseline": "middle"},
      "encoding": {
        "x": {"datum": 2016.4, "type": "quantitative", "axis": null},
        "y": {"field": "y", "type": "quantitative", "axis": null},
        "text": {"field": "v"},
        "color": {
          "field": "s", "type": "nominal",
          "scale": {"domain": ["P1", "P2", "P3"], "range": ["#e9484d", "#6cbd64", "#4d82bc"]},
          "legend": null
        }
      }
    },
    {
      "data": {"name": "key"},
      "mark": {"type": "text", "font": "Liberation Serif", "fontStyle": "italic", "fontWeight": "bold", "fontSize": 19, "align": "left", "baseline": "middle"},
      "encoding": {
        "x": {"datum": 2019.05, "type": "quantitative", "axis": null},
        "y": {"field": "y", "type": "quantitative", "axis": null},
        "text": {"field": "a"},
        "color": {
          "field": "s", "type": "nominal",
          "scale": {"domain": ["P1", "P2", "P3"], "range": ["#e9484d", "#6cbd64", "#4d82bc"]},
          "legend": null
        }
      }
    },
    {
      "mark": {"type": "text", "font": "Liberation Serif", "fontSize": 22, "align": "left", "baseline": "middle", "color": "#222222"},
      "encoding": {
        "x": {"datum": 2015.24, "type": "quantitative", "axis": null},
        "y": {"datum": -4.1, "type": "quantitative", "axis": null},
        "text": {"value": "(a)"}
      }
    }
  ],
  "resolve": {
    "axis": {"x": "independent", "y": "independent"},
    "scale": {"color": "independent"}
  }
}
